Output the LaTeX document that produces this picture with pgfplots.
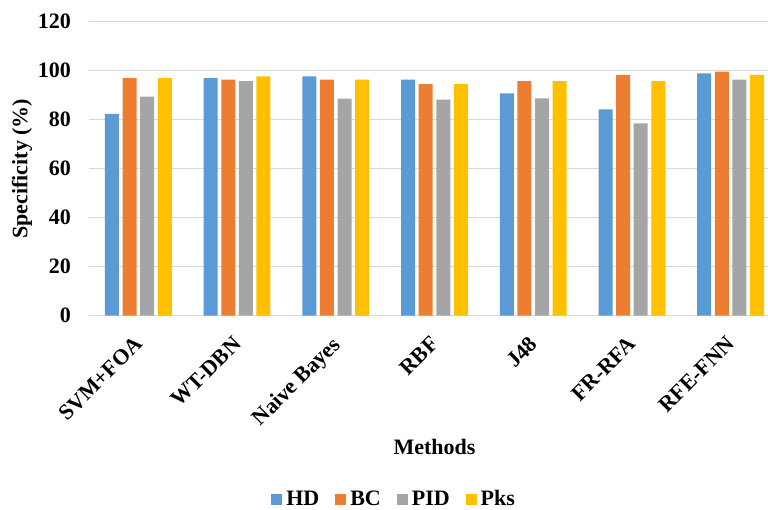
\documentclass[border=0pt]{standalone}
\usepackage{pgfplots}
\pgfplotsset{compat=1.18}
\usepackage{fontspec}
\setmainfont{Liberation Serif}
\definecolor{cHD}{HTML}{5B9BD5}
\definecolor{cBC}{HTML}{ED7D31}
\definecolor{cPID}{HTML}{A5A5A5}
\definecolor{cPks}{HTML}{FFC000}
\definecolor{gridc}{HTML}{D9D9D9}
\begin{document}
\begin{tikzpicture}
\begin{axis}[
  name=ax,
  scale only axis,
  width=345.5pt, height=147pt,
  ybar=1.8pt, bar width=7pt,
  xmin=-0.5, xmax=6.5, ymin=0, ymax=120,
  xtick={0,1,2,3,4,5,6},
  xticklabels={SVM+FOA,WT-DBN,Naive Bayes,RBF,J48,FR-RFA,RFE-FNN},
  ytick={0,20,40,60,80,100,120},
  font=\fontsize{11}{13}\selectfont\bfseries,
  /pgf/number format/assume math mode=true,
  ymajorgrids, grid style={draw=gridc, line width=0.75pt},
  axis x line*=bottom, axis y line*=left,
  x axis line style={draw=gridc, line width=0.75pt, -},
  y axis line style={draw=none},
  major tick length=0pt,
  yticklabel style={xshift=-5.5pt},
  xticklabel style={xshift=-2.5pt, yshift=-9.5pt, rotate=45, anchor=north east, inner sep=0pt},
  xlabel={Methods},
  ylabel={Specificity (\%)},
  xlabel style={at={(rel axis cs:0.5,0)}, anchor=center, yshift=-65.5pt},
  ylabel style={at={(rel axis cs:0,0.5)}, anchor=center, yshift=33.5pt},
  legend columns=4,
  legend style={draw=none, at={(rel axis cs:0.443,-0.626)}, anchor=center,
    font=\fontsize{11}{13}\selectfont\bfseries,
    /tikz/every even column/.append style={column sep=6pt}},
  legend image code/.code={\fill[#1] (0pt,-2.75pt) rectangle (5.5pt,2.75pt);},
  clip=true,
]
\addplot[fill=cHD, draw=none] coordinates {(0,82.4) (1,97.0) (2,97.7) (3,96.4) (4,90.7) (5,84.2) (6,98.9)};
\addplot[fill=cBC, draw=none] coordinates {(0,97.0) (1,96.4) (2,96.4) (3,94.5) (4,95.7) (5,98.3) (6,99.6)};
\addplot[fill=cPID, draw=none] coordinates {(0,89.4) (1,95.7) (2,88.6) (3,88.2) (4,88.7) (5,78.5) (6,96.4)};
\addplot[fill=cPks, draw=none] coordinates {(0,97.0) (1,97.7) (2,96.4) (3,94.5) (4,95.7) (5,95.7) (6,98.3)};
\legend{HD,BC,PID,Pks}
\end{axis}
\pgfresetboundingbox
\path ([xshift=-44.5pt, yshift=-97pt]ax.south west) rectangle ([xshift=-6pt, yshift=10.85pt]ax.north east);
\end{tikzpicture}
\end{document}
